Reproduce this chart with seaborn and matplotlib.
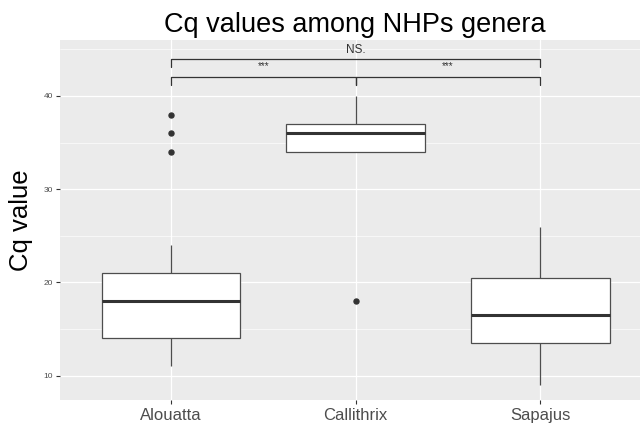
import numpy as np
import pandas as pd
import matplotlib
matplotlib.use('Agg')
import matplotlib.pyplot as plt
import seaborn as sns
from matplotlib.ticker import MultipleLocator

# Cq values per genus
genera = ['Alouatta', 'Callithrix', 'Sapajus']
alouatta_cq = [11, 12, 13, 13, 14, 15, 16, 17, 18, 19, 20, 20, 21, 24, 34, 36, 38]
callithrix_cq = [18, 34, 34, 35, 36, 36, 37, 39, 40]
sapajus_cq = [9, 12, 13.5, 15, 16.5, 18, 20.5, 23, 26]

# pairwise comparisons: (group a, group b, label, bracket level)
comparisons = [('Alouatta', 'Callithrix', '***', 42),
               ('Callithrix', 'Sapajus', '***', 42),
               ('Alouatta', 'Sapajus', 'NS.', 44)]

df = pd.DataFrame({
    'genus': np.repeat(genera, [len(alouatta_cq), len(callithrix_cq), len(sapajus_cq)]),
    'cq': np.concatenate([alouatta_cq, callithrix_cq, sapajus_cq]),
})

sns.set_theme(style='darkgrid', rc={'axes.facecolor': '#EBEBEB',
                                    'grid.color': 'white'})
plt.rcParams['font.family'] = ['Liberation Sans', 'DejaVu Sans']

fig = plt.figure(figsize=(6.4, 4.25), dpi=100)
ax = fig.add_axes([60 / 640, 1 - 400 / 425, 580 / 640, 360 / 425])

sns.boxplot(data=df, x='genus', y='cq', order=genera, ax=ax,
            color='white', linecolor='#4D4D4D', linewidth=0.9, width=0.75,
            showcaps=False, fliersize=3.6,
            flierprops=dict(marker='o', markerfacecolor='#333333',
                            markeredgecolor='#333333'),
            medianprops=dict(linewidth=2.2, color='#333333'))

ax.set_xlim(-0.6, 2.54)
ax.set_ylim(7.4, 46.0)
ax.yaxis.set_major_locator(MultipleLocator(10))
ax.yaxis.set_minor_locator(MultipleLocator(5))
ax.grid(which='major', color='white', linewidth=0.9)
ax.grid(which='minor', axis='y', color='white', linewidth=0.45)
ax.set_axisbelow(True)
for s in ax.spines.values():
    s.set_visible(False)

ax.tick_params(axis='both', which='major', length=3, width=0.8, color='#333333',
               left=True, bottom=True)
ax.tick_params(axis='y', which='minor', left=False)
ax.tick_params(axis='y', labelsize=6, labelcolor='#4D4D4D', pad=2)
ax.tick_params(axis='x', labelsize=12, labelcolor='#4D4D4D', pad=3)

ax.set_xlabel('')
ax.set_ylabel('Cq value', fontsize=18.5, color='black')
ax.yaxis.set_label_coords(-0.047, 0.5)

# significance brackets
pos = {g: i for i, g in enumerate(genera)}
for a, b, lab, lvl in comparisons:
    xa, xb = pos[a], pos[b]
    ax.plot([xa, xa, xb, xb], [lvl - 0.85, lvl, lvl, lvl - 0.85],
            color='#333333', linewidth=0.9, clip_on=False)
    if lab == 'NS.':
        ax.text((xa + xb) / 2, lvl + 0.95, lab, ha='center', va='center',
                fontsize=8.5, color='#333333')
    else:
        ax.text((xa + xb) / 2, lvl + 1.25, lab, ha='center', va='center',
                fontsize=7, color='#333333')

fig.text(355 / 640, 1 - 32 / 425, 'Cq values among NHPs genera',
         ha='center', va='baseline', fontsize=19.5, color='black')

fig.savefig('out.png', dpi=100)
